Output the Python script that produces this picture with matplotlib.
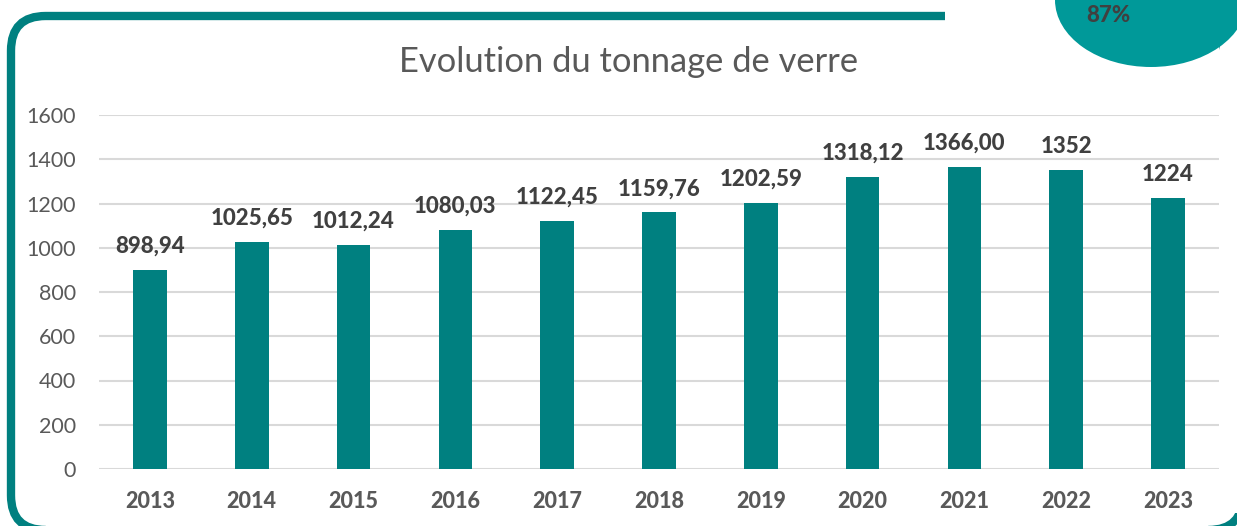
import matplotlib.pyplot as plt
from matplotlib.patches import FancyBboxPatch, Ellipse

years = ["2013", "2014", "2015", "2016", "2017", "2018", "2019", "2020", "2021", "2022", "2023"]
tonnage = [898.94, 1025.65, 1012.24, 1080.03, 1122.45, 1159.76, 1202.59, 1318.12, 1366.00, 1352, 1224]
labels = ["898,94", "1025,65", "1012,24", "1080,03", "1122,45", "1159,76", "1202,59",
          "1318,12", "1366,00", "1352", "1224"]

teal = "#008080"
W, H = 1237, 526

plt.rcParams['font.family'] = ['Lato', 'DejaVu Sans']
fig = plt.figure(figsize=(W / 100, H / 100), dpi=100)

# decorative frame (rounded, teal); right and bottom sides sit mostly off the canvas
frame = FancyBboxPatch((11 / W, -4 / H), 1232 / W, (H - 12) / H,
                       boxstyle="round,pad=0,rounding_size=0.028",
                       transform=fig.transFigure, fill=False,
                       edgecolor=teal, linewidth=6, mutation_aspect=W / H)
fig.patches.append(frame)
# white masks: cut the top line at the right and hide the right side
mask = plt.Rectangle((945 / W, 1 - 40 / H), 300 / W, 40 / H, transform=fig.transFigure,
                     facecolor="white", edgecolor="none")
fig.patches.append(mask)
mask2 = plt.Rectangle((1219.5 / W, 13 / H), 30 / W, 1, transform=fig.transFigure,
                      facecolor="white", edgecolor="none")
fig.patches.append(mask2)

ax = fig.add_axes([99 / W, 1 - 469 / H, 1120 / W, 354 / H])
x = range(len(years))
ax.bar(x, tonnage, width=0.33, color=teal, zorder=3)
for i, v in enumerate(tonnage):
    ax.text(i, v + 78, labels[i], ha="center", va="baseline", fontsize=16,
            fontweight="black", color="#404040")

ax.set_xlim(-0.5, len(years) - 0.5)
ax.set_ylim(0, 1600)
ax.set_yticks(range(0, 1601, 200))
ax.set_xticks(list(x))
ax.set_xticklabels(years, fontweight="black")
ax.tick_params(axis="x", length=0, pad=16, labelsize=15.5, labelcolor="#595959")
ax.tick_params(axis="y", length=0, pad=16.5, labelsize=15.5, labelcolor="#595959")
ax.grid(axis="y", color="#d9d9d9", linewidth=1.5, zorder=0)
for s in ax.spines.values():
    s.set_visible(False)

fig.text(629 / W, 1 - 62 / H, "Evolution du tonnage de verre", ha="center", va="center",
         fontsize=24.8, color="#595959")

# badge top right
badge = Ellipse((11.51, H / 100), 1.92, 1.34, transform=fig.dpi_scale_trans,
                facecolor="#009999", edgecolor="none")
fig.patches.append(badge)
fig.text(1108 / W, 1 - 15 / H, "87%", ha="center", va="center", fontsize=16,
         fontweight="black", color="#404040")

fig.savefig("out.png", dpi=100)
